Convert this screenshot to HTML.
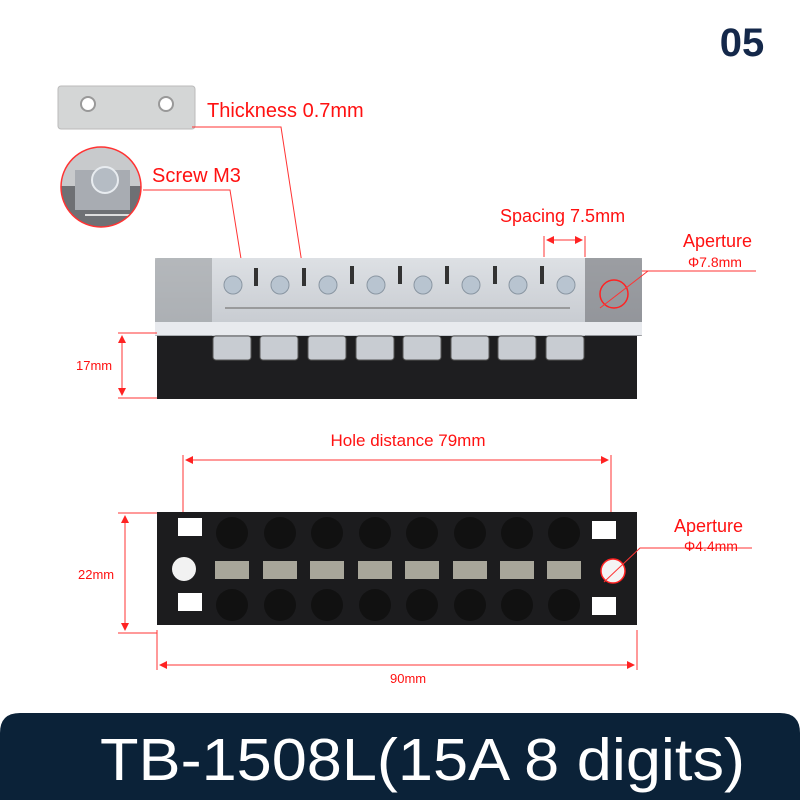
<!DOCTYPE html><html><head><style>body{margin:0;background:#fff}svg{display:block}</style></head><body>
<svg width="800" height="800" viewBox="0 0 800 800" xmlns="http://www.w3.org/2000/svg" font-family="Liberation Sans, sans-serif">
<defs>
<marker id="a" markerWidth="8" markerHeight="8" refX="7" refY="4" orient="auto-start-reverse"><path d="M0,0L8,4L0,8z" fill="#f22"/></marker>
<linearGradient id="cov" x1="0" y1="0" x2="0" y2="1"><stop offset="0" stop-color="#dde0e4"/><stop offset="1" stop-color="#c4c8ce"/></linearGradient>
<clipPath id="mc"><circle cx="101" cy="187" r="40"/></clipPath>
</defs>
<text x="742" y="56" font-size="40" font-weight="bold" fill="#14284a" text-anchor="middle">05</text>
<!-- plate -->
<rect x="58" y="86" width="137" height="43" rx="3" fill="#d4d6d6" stroke="#bbb"/>
<circle cx="88" cy="104" r="7" fill="#fff" stroke="#999" stroke-width="2"/>
<circle cx="166" cy="104" r="7" fill="#fff" stroke="#999" stroke-width="2"/>
<polyline points="192,127 281,127 303,270" fill="none" stroke="#f33" stroke-width="1"/>
<text x="207" y="117" font-size="20" fill="#f11">Thickness 0.7mm</text>
<!-- magnifier -->
<g clip-path="url(#mc)">
<rect x="60" y="146" width="82" height="82" fill="#6e7074"/>
<rect x="60" y="146" width="82" height="40" fill="#c8cacc"/>
<rect x="75" y="170" width="55" height="40" fill="#a8acb2"/>
<circle cx="105" cy="180" r="13" fill="#b5bcc4" stroke="#e8ecf0" stroke-width="2"/>
<line x1="85" y1="215" x2="135" y2="215" stroke="#ddd" stroke-width="2"/>
</g>
<circle cx="101" cy="187" r="40" fill="none" stroke="#f33" stroke-width="1.5"/>
<polyline points="143,190 230,190 242,265" fill="none" stroke="#f33"/>
<text x="152" y="182" font-size="20" fill="#f11">Screw M3</text>
<!-- spacing -->
<text x="500" y="222" font-size="18" fill="#f11">Spacing 7.5mm</text>
<line x1="544" y1="236" x2="544" y2="257" stroke="#f33"/><line x1="585" y1="236" x2="585" y2="257" stroke="#f33"/>
<line x1="547" y1="240" x2="582" y2="240" stroke="#f33" marker-start="url(#a)" marker-end="url(#a)"/>
<text x="683" y="247" font-size="18" fill="#f11">Aperture</text>
<text x="688" y="267" font-size="14" fill="#f11">Φ7.8mm</text>
<line x1="636" y1="271" x2="756" y2="271" stroke="#f33"/>
<!-- top block -->
<rect x="157" y="333" width="480" height="66" fill="#1e1e20"/>
<rect x="155" y="258" width="487" height="78" rx="3" fill="url(#cov)"/>
<rect x="155" y="258" width="57" height="78" fill="#9a9ca0" opacity=".6"/>
<rect x="585" y="258" width="57" height="78" fill="#707276" opacity=".6"/>
<g fill="#333"><rect x="254" y="268" width="4" height="18"/><rect x="302" y="268" width="4" height="18"/><rect x="350" y="266" width="4" height="18"/><rect x="398" y="266" width="4" height="18"/><rect x="445" y="266" width="4" height="18"/><rect x="493" y="266" width="4" height="18"/><rect x="540" y="266" width="4" height="18"/></g>
<rect x="155" y="322" width="487" height="13" fill="#e8eaee"/>
<line x1="225" y1="308" x2="570" y2="308" stroke="#888" stroke-width="1.5"/>
<g fill="#b8c4d0" stroke="#8a96a2">
<circle cx="233" cy="285" r="9"/><circle cx="280" cy="285" r="9"/><circle cx="328" cy="285" r="9"/><circle cx="376" cy="285" r="9"/><circle cx="423" cy="285" r="9"/><circle cx="471" cy="285" r="9"/><circle cx="518" cy="285" r="9"/><circle cx="566" cy="285" r="9"/>
</g>
<g fill="#c8ccd2" stroke="#555">
<rect x="213" y="336" width="38" height="24" rx="3"/><rect x="260" y="336" width="38" height="24" rx="3"/><rect x="308" y="336" width="38" height="24" rx="3"/><rect x="356" y="336" width="38" height="24" rx="3"/><rect x="403" y="336" width="38" height="24" rx="3"/><rect x="451" y="336" width="38" height="24" rx="3"/><rect x="498" y="336" width="38" height="24" rx="3"/><rect x="546" y="336" width="38" height="24" rx="3"/>
</g>
<circle cx="614" cy="294" r="14" fill="none" stroke="#f22" stroke-width="1.5"/>
<line x1="600" y1="308" x2="648" y2="271" stroke="#f33"/>
<!-- 17mm -->
<line x1="118" y1="333" x2="157" y2="333" stroke="#f33"/><line x1="118" y1="398" x2="157" y2="398" stroke="#f33"/>
<line x1="122" y1="336" x2="122" y2="395" stroke="#f33" marker-start="url(#a)" marker-end="url(#a)"/>
<text x="76" y="370" font-size="13" fill="#f11">17mm</text>
<!-- hole distance -->
<text x="408" y="446" font-size="17" fill="#f11" text-anchor="middle">Hole distance 79mm</text>
<line x1="186" y1="460" x2="608" y2="460" stroke="#f33" marker-start="url(#a)" marker-end="url(#a)"/>
<line x1="183" y1="455" x2="183" y2="568" stroke="#f33"/><line x1="611" y1="455" x2="611" y2="568" stroke="#f33"/>
<!-- bottom block -->
<rect x="157" y="512" width="480" height="113" fill="#1c1c1e"/>
<g fill="#111"><circle cx="232" cy="533" r="16"/><circle cx="280" cy="533" r="16"/><circle cx="327" cy="533" r="16"/><circle cx="375" cy="533" r="16"/><circle cx="422" cy="533" r="16"/><circle cx="470" cy="533" r="16"/><circle cx="517" cy="533" r="16"/><circle cx="564" cy="533" r="16"/>
<circle cx="232" cy="605" r="16"/><circle cx="280" cy="605" r="16"/><circle cx="327" cy="605" r="16"/><circle cx="375" cy="605" r="16"/><circle cx="422" cy="605" r="16"/><circle cx="470" cy="605" r="16"/><circle cx="517" cy="605" r="16"/><circle cx="564" cy="605" r="16"/></g>
<g fill="#fff"><rect x="178" y="518" width="24" height="18"/><rect x="178" y="593" width="24" height="18"/><rect x="592" y="521" width="24" height="18"/><rect x="592" y="597" width="24" height="18"/></g>
<circle cx="184" cy="569" r="12" fill="#f2f2f2"/>
<circle cx="613" cy="571" r="12" fill="#f4f4f4" stroke="#f22" stroke-width="1.5"/>
<g fill="#a8a69a">
<rect x="215" y="561" width="34" height="18"/><rect x="263" y="561" width="34" height="18"/><rect x="310" y="561" width="34" height="18"/><rect x="358" y="561" width="34" height="18"/><rect x="405" y="561" width="34" height="18"/><rect x="453" y="561" width="34" height="18"/><rect x="500" y="561" width="34" height="18"/><rect x="547" y="561" width="34" height="18"/>
</g>
<polyline points="604,582 640,548 752,548" fill="none" stroke="#f33"/>
<text x="674" y="532" font-size="18" fill="#f11">Aperture</text>
<text x="684" y="551" font-size="14" fill="#f11">Φ4.4mm</text>
<!-- 22mm -->
<line x1="118" y1="513" x2="157" y2="513" stroke="#f33"/><line x1="118" y1="633" x2="157" y2="633" stroke="#f33"/>
<line x1="125" y1="516" x2="125" y2="630" stroke="#f33" marker-start="url(#a)" marker-end="url(#a)"/>
<text x="78" y="579" font-size="13" fill="#f11">22mm</text>
<!-- 90mm -->
<line x1="157" y1="630" x2="157" y2="670" stroke="#f33"/><line x1="637" y1="630" x2="637" y2="670" stroke="#f33"/>
<line x1="160" y1="665" x2="634" y2="665" stroke="#f33" marker-start="url(#a)" marker-end="url(#a)"/>
<text x="390" y="683" font-size="13" fill="#f11">90mm</text>
<!-- banner -->
<path d="M0,800V733Q0,713 20,713H780Q800,713 800,733V800z" fill="#0b2238"/>
<text x="100" y="780" font-size="59" fill="#fff" textLength="645" lengthAdjust="spacingAndGlyphs">TB-1508L(15A 8 digits)</text>
</svg>
</body></html>
